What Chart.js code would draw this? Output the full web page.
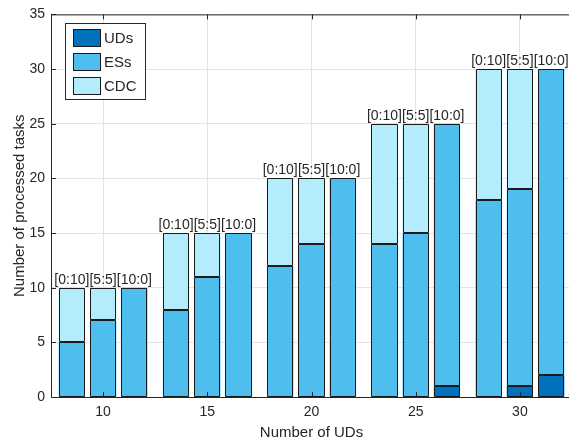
<!DOCTYPE html>
<html>
<head>
<meta charset="utf-8">
<script src="https://cdn.jsdelivr.net/npm/chart.js@4.4.1/dist/chart.umd.min.js"></script>
<style>
    html, body { margin: 0; padding: 0; background: #fff; overflow: hidden; }
    #wrap { width: 575px; height: 445px; }
</style>
</head>
<body>
<div id="wrap"><canvas id="chart" width="575" height="445"></canvas></div>
<script>
// x categories (number of UDs) and the three offloading schemes
const groups = ['10', '15', '20', '25', '30'];
const schemes = ['[0:10]', '[5:5]', '[10:0]'];
const layers = ['UDs', 'ESs', 'CDC'];
const yTicks = [0, 5, 10, 15, 20, 25, 30, 35];

// scheme [0:10]
const udsA = [0, 0, 0, 0, 0];
const essA = [5, 8, 12, 14, 18];
const cdcA = [5, 7, 8, 11, 12];
// scheme [5:5]
const udsB = [0, 0, 0, 0, 1];
const essB = [7, 11, 14, 15, 18];
const cdcB = [3, 4, 6, 10, 11];
// scheme [10:0]
const udsC = [0, 0, 0, 1, 2];
const essC = [10, 15, 20, 24, 28];
const cdcC = [0, 0, 0, 0, 0];

const layerColors = ['#0072bd', '#4dbeee', '#b3ecfc'];
const edgeColor = '#1a1a1a';
const axisColor = '#262626';
const FONT = '"Liberation Sans", Arial, Helvetica, sans-serif';

const schemeData = [
    [udsA, essA, cdcA],
    [udsB, essB, cdcB],
    [udsC, essC, cdcC]
];

const datasets = [];
schemeData.forEach((series, s) => {
    series.forEach((values, l) => {
        datasets.push({
            label: layers[l],
            stack: 's' + s,
            data: values.map(v => v === 0 ? null : v),
            backgroundColor: layerColors[l],
            borderWidth: 0,
            categoryPercentage: 0.9,
            barPercentage: 0.84
        });
    });
});

// crisp bar outlines, labels above each bar, inner tick marks, top border, legend
const decorations = {
    id: 'decorations',
    afterDatasetsDraw(chart) {
        const { ctx, chartArea, scales } = chart;
        ctx.save();

        // bar outlines (shared edges collapse into one line)
        ctx.strokeStyle = edgeColor;
        ctx.lineWidth = 1;
        ctx.beginPath();
        chart.data.datasets.forEach((ds, d) => {
            chart.getDatasetMeta(d).data.forEach((bar, i) => {
                if (ds.data[i] == null) return;
                const { x, y, base, width } = bar.getProps(['x', 'y', 'base', 'width'], true);
                const x0 = Math.round(x - width / 2) + 0.5;
                const x1 = Math.round(x + width / 2) - 0.5;
                const y0 = Math.round(y) + 0.5;
                const y1 = Math.round(base) - 0.5;
                ctx.rect(x0, y0, x1 - x0, y1 - y0);
            });
        });
        ctx.stroke();

        // scheme labels
        ctx.font = '14px ' + FONT;
        ctx.fillStyle = axisColor;
        ctx.textAlign = 'center';
        ctx.textBaseline = 'alphabetic';
        schemeData.forEach((series, s) => {
            const meta = chart.getDatasetMeta(s * 3 + 1);
            groups.forEach((g, i) => {
                const total = series[0][i] + series[1][i] + series[2][i];
                const x = meta.data[i].x;
                const y = scales.y.getPixelForValue(total);
                ctx.fillText(schemes[s], x, y - 4);
            });
        });

        // axes box and inward ticks
        ctx.strokeStyle = axisColor;
        ctx.beginPath();
        ctx.moveTo(chartArea.left, chartArea.top + 0.5);
        ctx.lineTo(chartArea.right, chartArea.top + 0.5);
        ctx.moveTo(chartArea.right - 0.5, chartArea.top);
        ctx.lineTo(chartArea.right - 0.5, chartArea.bottom);
        scales.y.ticks.forEach((t, i) => {
            const y = Math.round(scales.y.getPixelForTick(i)) + 0.5;
            ctx.moveTo(chartArea.left, y);
            ctx.lineTo(chartArea.left + 5, y);
        });
        scales.x.ticks.forEach((t, i) => {
            const x = Math.round(scales.x.getPixelForTick(i)) + 0.5;
            ctx.moveTo(x, chartArea.bottom);
            ctx.lineTo(x, chartArea.bottom - 5);
            ctx.moveTo(x, chartArea.top);
            ctx.lineTo(x, chartArea.top + 5);
        });
        ctx.stroke();

        // legend box
        const lx = 65, ly = 23, lw = 80, lh = 76;
        ctx.fillStyle = '#fff';
        ctx.fillRect(lx, ly, lw, lh);
        ctx.strokeStyle = axisColor;
        ctx.strokeRect(lx + 0.5, ly + 0.5, lw, lh);
        ctx.font = '15px ' + FONT;
        ctx.textAlign = 'left';
        ctx.textBaseline = 'middle';
        layers.forEach((name, l) => {
            const sy = ly + 6 + l * 24;
            ctx.fillStyle = layerColors[l];
            ctx.fillRect(lx + 8, sy, 28, 18);
            ctx.strokeStyle = edgeColor;
            ctx.strokeRect(lx + 8.5, sy + 0.5, 27, 17);
            ctx.fillStyle = axisColor;
            ctx.fillText(name, lx + 39, sy + 10);
        });
        ctx.restore();
    }
};

new Chart(document.getElementById('chart'), {
    type: 'bar',
    data: { labels: groups, datasets: datasets },
    options: {
        responsive: false,
        animation: false,
        layout: { padding: { top: 11, right: 3, left: 0, bottom: 0 } },
        plugins: {
            legend: { display: false },
            tooltip: { enabled: false }
        },
        scales: {
            x: {
                stacked: true,
                grid: { offset: false, color: '#e3e3e3', drawTicks: false },
                border: { color: axisColor },
                ticks: { color: axisColor, font: { family: FONT, size: 14 }, padding: 7 },
                title: {
                    display: true, text: 'Number of UDs', color: axisColor,
                    font: { family: FONT, size: 15 }, padding: { top: 0, bottom: 3 }
                },
                afterFit(scale) { scale.height = 48; }
            },
            y: {
                stacked: true,
                min: 0,
                max: 35,
                afterBuildTicks(scale) { scale.ticks = yTicks.map(v => ({ value: v })); },
                grid: { color: '#e3e3e3', drawTicks: false },
                border: { color: axisColor },
                ticks: { color: axisColor, font: { family: FONT, size: 14 }, padding: 6 },
                title: {
                    display: true, text: 'Number of processed tasks', color: axisColor,
                    font: { family: FONT, size: 15 }, padding: { top: 11, bottom: 0 }
                },
                afterFit(scale) { scale.width = 51; }
            }
        }
    },
    plugins: [decorations]
});
</script>
</body>
</html>
